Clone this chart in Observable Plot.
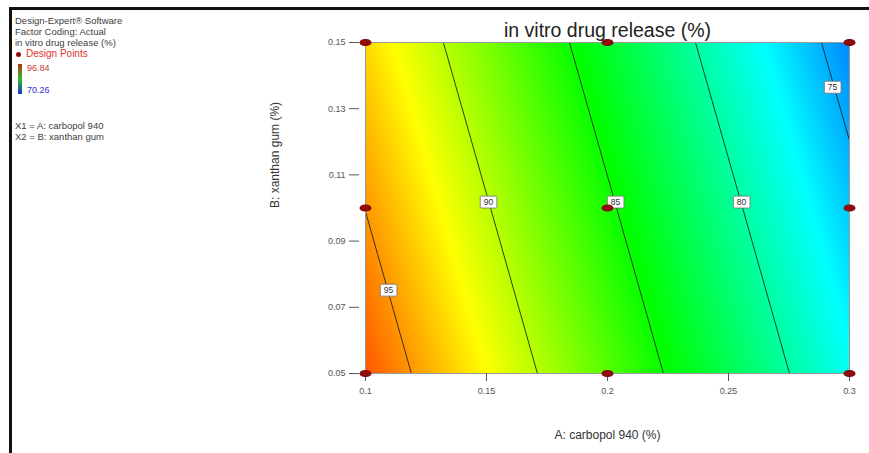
<!DOCTYPE html>
<html><head><meta charset="utf-8">
<script src="https://cdn.jsdelivr.net/npm/d3@7"></script>
<script src="https://cdn.jsdelivr.net/npm/@observablehq/plot@0.6"></script>
<style>
body{margin:0;background:#fff;font-family:"Liberation Sans",Arial,sans-serif;}
#wrap{position:relative;width:869px;height:453px;overflow:hidden;background:#fff;}
#wrap svg{position:absolute;left:0;top:0;}
.bt{position:absolute;left:9px;top:7px;width:860px;height:3px;background:#111;}
.bl{position:absolute;left:9px;top:7px;width:3px;height:446px;background:#111;}
.lg{position:absolute;left:15px;font-size:9.5px;color:#404040;white-space:nowrap;line-height:1;}
</style></head><body><div id="wrap"></div>
<script>
// Design points (A: carbopol 940, B: xanthan gum) and fitted response
const carbopol = [0.1, 0.2, 0.3, 0.1, 0.2, 0.3, 0.1, 0.2, 0.3];
const xanthan  = [0.05, 0.05, 0.05, 0.10, 0.10, 0.10, 0.15, 0.15, 0.15];
const release  = [96.82, 87.22, 77.62, 94.96, 85.36, 75.76, 93.09, 83.49, 73.89];
const contourLevels = [75, 80, 85, 90, 95];
// contour label positions (data units)
const labelLevels   = [95, 90, 85, 80, 75];
const labelCarbopol = [0.1095, 0.1508, 0.2033, 0.2554, 0.293];
const labelXanthan  = [0.0751, 0.1017, 0.1017, 0.1017, 0.1364];
const xTicks = [0.1, 0.15, 0.2, 0.25, 0.3];
const yTicks = [0.05, 0.07, 0.09, 0.11, 0.13, 0.15];
const colorStops = [70, 77.3, 84.75, 92, 99.3];
const colorRange = ["#0000ff", "#00ffff", "#00ff00", "#ffff00", "#ff0000"];
const legendHigh = "96.84", legendLow = "70.26";
const titleText = "in vitro drug release (%)";
const xLabel = "A: carbopol 940 (%)";
const yLabel = "B: xanthan gum (%)";

const points = carbopol.map((a, i) => ({a, b: xanthan[i], r: release[i]}));
const labels = labelLevels.map((v, i) => ({v, a: labelCarbopol[i], b: labelXanthan[i]}));
const bounds = {x1: 0.1, x2: 0.3, y1: 0.05, y2: 0.15};

const ellipse = {
  draw(ctx, size) {
    const r = Math.sqrt(size / Math.PI), rx = r * 1.5, ry = r * 0.9, k = 0.5523;
    ctx.moveTo(rx, 0);
    ctx.bezierCurveTo(rx, ry * k, rx * k, ry, 0, ry);
    ctx.bezierCurveTo(-rx * k, ry, -rx, ry * k, -rx, 0);
    ctx.bezierCurveTo(-rx, -ry * k, -rx * k, -ry, 0, -ry);
    ctx.bezierCurveTo(rx * k, -ry, rx, -ry * k, rx, 0);
    ctx.closePath();
  }
};

const chart = Plot.plot({
  width: 869, height: 453,
  marginLeft: 365, marginRight: 20, marginTop: 42, marginBottom: 80,
  style: {fontFamily: '"Liberation Sans", Arial, sans-serif', background: "transparent"},
  x: {domain: [0.1, 0.3]},
  y: {domain: [0.05, 0.15]},
  color: {type: "linear", domain: colorStops, range: colorRange, interpolate: "rgb"},
  marks: [
    Plot.raster(points, {x: "a", y: "b", fill: "r", interpolate: "barycentric", pixelSize: 1, ...bounds}),
    Plot.contour(points, {x: "a", y: "b", value: "r", thresholds: contourLevels, interpolate: "barycentric",
      pixelSize: 1, ...bounds, fill: "none", stroke: "#1a1a1a", strokeWidth: 1, strokeOpacity: 0.85, clip: true}),
    Plot.frame({stroke: "#9a9a9a", strokeWidth: 1}),
    Plot.axisX({ticks: xTicks, tickSize: 8, tickPadding: 6, tickFormat: d => String(d), fontSize: 9, color: "#555", label: null}),
    Plot.axisY({ticks: yTicks, tickSize: 10, tickPadding: 4, dx: -6, tickFormat: d => d.toFixed(2), fontSize: 9, color: "#555", label: null}),
    Plot.text(labels, {x: "a", y: "b", text: d => String(d.v), fontSize: 8.5, fill: "#333", className: "clabels"}),
    Plot.dot(points, {x: "a", y: "b", r: 4, symbol: ellipse, fill: "#8c0c0c", stroke: "none"}),
    Plot.text([titleText], {frameAnchor: "top", dy: -19, fontSize: 19.5, fill: "#222"}),
    Plot.text([xLabel], {frameAnchor: "bottom", dy: 65, fontSize: 12, fill: "#333"}),
    Plot.text([yLabel], {frameAnchor: "left", dx: -90, rotate: -90, fontSize: 12, fill: "#333"})
  ]
});

const wrap = document.getElementById("wrap");
wrap.appendChild(chart);

// white boxes behind contour labels
chart.querySelectorAll("g.clabels text").forEach(t => {
  const bb = t.getBBox();
  const rect = document.createElementNS("http://www.w3.org/2000/svg", "rect");
  rect.setAttribute("x", bb.x - 3.5);
  rect.setAttribute("y", bb.y - 1);
  rect.setAttribute("width", bb.width + 7);
  rect.setAttribute("height", bb.height + 2);
  rect.setAttribute("rx", 1.5);
  rect.setAttribute("fill", "#fff");
  rect.setAttribute("stroke", "#777");
  rect.setAttribute("stroke-width", 0.9);
  const tr = t.getAttribute("transform");
  if (tr) rect.setAttribute("transform", tr);
  t.parentNode.insertBefore(rect, t);
});

// frame lines and legend
wrap.insertAdjacentHTML("beforeend", `
<div class="bt"></div><div class="bl"></div>
<div class="lg" style="top:16px">Design-Expert® Software</div>
<div class="lg" style="top:27px">Factor Coding: Actual</div>
<div class="lg" style="top:38px">${titleText}</div>
<div style="position:absolute;left:16px;top:52px;width:5px;height:5px;border-radius:50%;background:#8c0c0c"></div>
<div class="lg" style="top:49px;left:26px;font-size:10px;color:#e03030">Design Points</div>
<div style="position:absolute;left:18px;top:64px;width:4px;height:30px;background:linear-gradient(#b8301a,#2cc02c 50%,#1a30d0)"></div>
<div class="lg" style="top:64px;left:27px;font-size:9px;color:#c83838">${legendHigh}</div>
<div class="lg" style="top:86px;left:27px;font-size:9px;color:#3030e0">${legendLow}</div>
<div class="lg" style="top:121px">X1 = ${xLabel.replace(" (%)", "")}</div>
<div class="lg" style="top:132px">X2 = ${yLabel.replace(" (%)", "")}</div>
`);
</script>
</body></html>
